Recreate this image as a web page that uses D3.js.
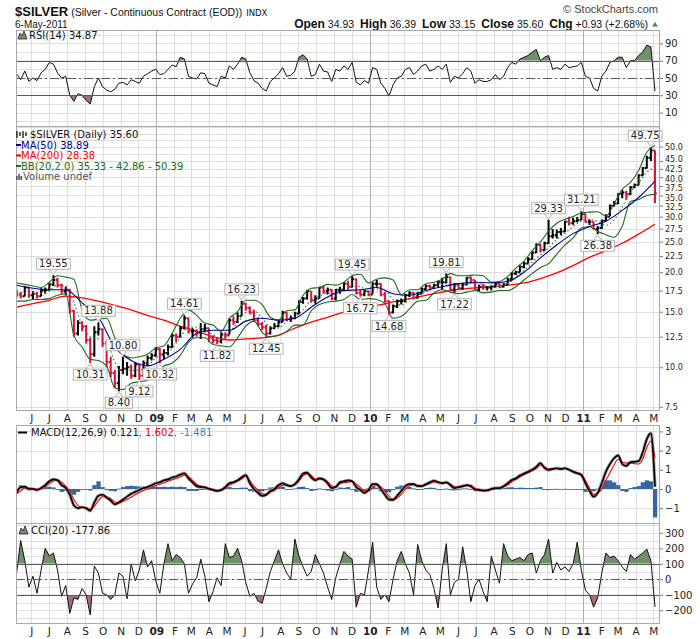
<!DOCTYPE html>
<html>
<head>
<meta charset="utf-8">
<script src="https://cdn.jsdelivr.net/npm/d3@7"></script>
<style>
  body { margin: 0; background: #fff; }
  svg { display: block; }
</style>
</head>
<body>
<script>
// one bar per week, first week is the one of 7 May 2008, last is 6 May 2011
const closes = [17.0,16.8,17.9,16.9,17.1,16.8,17.5,17.6,18.3,18.9,
  18.2,17.4,17.6,15.1,12.8,13.8,13.5,12.2,11.0,12.9,
  13.2,11.9,10.4,9.6,8.9,9.8,9.9,10.0,9.4,10.2,
  9.4,10.3,10.7,10.9,11.4,11.0,11.1,11.6,12.6,12.5,
  13.3,14.3,13.0,13.0,12.9,13.2,13.3,12.4,12.2,12.1,
  12.7,12.6,14.1,13.9,14.5,15.9,15.4,14.9,14.1,13.7,
  13.4,12.8,13.3,13.5,13.9,14.9,14.2,14.3,14.8,16.1,
  16.5,17.4,16.3,16.5,17.9,17.4,17.6,16.5,17.6,17.6,
  18.4,18.0,19.0,17.2,17.0,17.4,17.0,18.4,18.4,17.0,
  16.2,14.9,15.6,16.2,16.2,16.9,17.2,16.6,17.1,17.7,
  18.1,17.9,18.2,18.6,18.6,19.3,17.6,18.3,17.8,18.3,
  19.2,18.9,17.6,18.0,17.9,17.9,18.0,18.4,18.0,18.3,
  19.0,19.8,20.0,20.8,21.3,22.0,23.1,24.4,23.5,24.7,
  26.0,26.2,26.8,26.9,28.9,28.6,29.0,29.2,30.6,28.9,
  28.9,27.4,27.6,29.1,30.0,32.5,33.0,35.4,35.8,35.4,
  37.2,37.8,40.6,42.8,46.1,48.6,35.6];
const highs = [17.6,17.3,18.1,18.0,17.4,17.3,17.8,17.9,18.5,19.55,
  19.2,18.4,18.0,17.7,15.2,14.1,14.0,13.6,12.4,13.5,
  13.88,13.3,12.0,10.8,9.8,10.1,10.8,10.4,10.2,10.4,
  10.3,10.5,10.9,11.1,11.6,11.5,11.4,11.8,12.8,12.8,
  13.5,14.61,14.4,13.3,13.2,13.8,13.7,13.3,12.6,12.4,
  12.9,12.9,14.3,14.5,14.9,16.23,16.0,15.6,15.2,14.4,
  13.9,13.6,13.5,13.8,14.1,15.1,15.0,14.6,15.0,16.3,
  16.7,17.6,17.4,16.9,18.0,18.1,17.9,17.7,17.7,18.0,
  18.6,18.8,19.45,19.1,17.6,17.6,17.5,18.6,18.9,18.5,
  17.3,16.3,15.8,16.4,16.5,17.1,17.4,17.3,17.3,17.9,
  18.3,18.3,18.4,18.8,19.2,19.81,19.3,18.5,18.5,18.5,
  19.3,19.4,18.9,18.3,18.4,18.1,18.2,18.6,18.5,18.5,
  19.2,20.0,20.2,21.0,21.6,22.3,23.3,24.7,24.6,25.0,
  29.33,27.4,27.3,27.6,29.1,30.0,29.7,29.9,31.21,30.7,
  29.4,28.9,28.0,29.4,30.5,32.8,33.6,35.6,36.4,36.2,
  37.5,38.2,40.9,43.1,46.8,49.75,48.6];
const lows = [16.6,16.5,16.8,16.6,16.4,16.5,16.8,17.1,17.5,18.1,
  17.9,17.1,16.9,14.8,12.5,12.6,13.0,11.9,10.31,10.8,
  12.6,11.6,10.0,9.3,8.6,8.40,9.5,9.4,9.2,9.3,
  9.12,9.4,10.1,10.5,10.8,10.32,10.6,10.9,11.5,12.0,
  12.4,13.2,12.8,12.4,12.5,12.3,12.9,12.0,11.9,11.82,
  11.9,12.2,12.7,13.6,13.8,14.6,15.1,14.7,13.9,13.5,
  13.1,12.45,12.7,13.2,13.4,13.9,14.0,13.9,14.2,14.7,
  15.9,16.4,16.0,15.9,16.5,17.1,17.0,16.3,16.3,17.1,
  17.4,17.6,17.9,17.0,16.72,16.8,16.8,17.1,18.0,16.8,
  16.0,14.68,14.8,15.4,15.8,16.1,16.7,16.4,16.5,17.1,
  17.6,17.5,17.7,17.9,17.6,18.5,17.4,17.22,17.6,17.6,
  18.2,18.4,17.5,17.4,17.6,17.5,17.5,17.9,17.8,17.9,
  18.2,19.0,19.6,20.0,20.6,21.3,21.9,23.0,23.1,23.4,
  24.6,25.6,25.6,26.2,26.8,28.1,28.3,28.8,29.2,28.7,
  28.2,27.3,26.38,27.4,29.0,30.1,32.3,32.9,34.3,33.9,
  35.1,36.9,37.7,40.4,42.6,45.0,33.15];
const firstOpen = 17.3;

// moving averages, one value every 4 weeks
const ma50 = [18.2,17.8,17.6,17.6,16.0,14.4,11.6,10.5,10.1,10.6,
  11.4,12.8,13.1,13.1,14.0,14.3,14.1,14.3,15.5,16.7,
  17.5,17.6,17.9,17.1,16.9,17.5,18.0,18.4,18.6,18.5,
  18.7,20.0,22.2,24.4,26.5,27.9,29.0,31.4,34.5,38.89];
const ma200 = [15.5,15.9,16.3,16.8,16.6,16.2,15.7,15.2,14.6,14.1,
  13.5,13.0,12.5,12.2,12.3,12.4,12.65,13.3,13.9,14.4,
  14.95,15.4,15.7,16.1,16.5,16.9,17.3,17.65,17.85,18.0,
  18.2,18.5,19.1,19.9,21.0,22.3,23.4,24.7,26.4,28.38];

// Bollinger bands (20, 2.0), one value every 2 weeks
const bbUpper = [18.5,18.3,18.1,17.9,18.6,19.5,19.3,19.0,15.2,14.1,
  14.2,14.3,12.4,11.0,10.7,10.8,11.0,11.5,11.7,12.8,
  14.3,15.2,14.6,13.8,13.6,13.0,14.3,15.0,16.3,16.3,
  15.8,14.4,14.1,15.1,15.2,16.9,17.8,17.9,18.3,18.2,
  18.6,19.5,19.7,18.5,19.0,19.2,18.9,17.0,17.6,17.6,
  18.4,18.6,19.0,19.8,19.5,19.5,19.6,19.5,18.6,18.7,
  19.4,20.6,21.7,23.4,24.9,27.0,28.6,29.4,30.0,30.8,
  31.0,31.1,30.1,33.0,36.6,38.5,42.0,48.0,50.39];
const bbMiddle = [17.3,17.2,17.2,17.1,17.5,18.2,18.1,16.0,13.6,12.5,
  12.3,12.0,10.4,9.6,9.8,9.8,10.1,10.7,11.0,11.5,
  12.4,13.4,13.4,13.1,12.7,12.3,12.9,13.8,14.9,15.1,
  14.3,13.4,13.3,14.0,14.4,15.2,16.4,16.8,17.2,17.1,
  17.5,18.1,18.0,17.4,17.7,17.5,16.4,15.7,16.4,16.9,
  17.3,17.9,18.3,18.5,18.2,18.3,18.5,18.3,17.9,18.1,
  18.4,19.3,20.3,21.5,22.7,23.9,25.4,26.6,27.9,29.1,
  29.4,29.0,28.2,29.3,32.2,36.0,38.3,41.5,42.86];
const bbLower = [16.2,16.2,16.4,16.4,16.5,16.9,17.1,12.6,11.6,10.6,
  10.5,10.1,8.6,8.5,8.9,9.0,9.1,9.6,10.1,10.3,
  10.9,12.0,12.4,12.4,11.8,11.7,11.6,12.4,13.5,14.0,
  12.9,12.5,12.6,13.0,13.6,13.6,15.1,15.8,16.1,16.2,
  16.4,17.0,16.4,16.5,16.4,15.9,14.3,14.5,15.3,16.2,
  16.3,17.2,17.6,17.3,17.1,17.3,17.5,17.2,17.3,17.5,
  17.5,18.0,18.9,19.8,20.7,21.3,22.8,24.4,25.7,27.6,
  27.9,26.9,26.3,25.8,28.0,33.5,34.0,35.0,35.33];

const rsi = [55,48,58,46,50,47,56,60,68,66,
  56,50,52,30,23,32,30,24,20,40,
  50,40,36,34,37,44,45,42,48,46,
  44,52,55,58,60,54,55,60,65,63,
  74,72,52,50,49,56,55,44,42,40,
  52,50,64,60,66,74,72,56,47,44,
  38,35,46,50,55,62,52,53,58,74,
  77,72,52,54,66,58,57,46,60,58,
  64,60,68,45,42,47,44,62,60,44,
  38,29,42,50,52,60,62,54,58,64,
  66,58,60,64,60,66,45,52,50,55,
  62,58,44,48,46,46,48,54,48,52,
  62,68,66,72,74,76,80,83,70,74,
  76,60,62,60,66,62,63,64,68,52,
  50,38,35,52,58,68,70,74,74,62,
  70,70,76,80,88,86,34.87];

const macd = [-0.2,0.1,0.12,0.0,0.0,-0.05,0.05,0.2,0.4,0.5,
  0.45,0.2,0.05,-0.3,-0.85,-1.0,-0.95,-1.0,-1.13,-0.7,
  -0.35,-0.3,-0.45,-0.6,-0.8,-0.7,-0.55,-0.4,-0.25,-0.15,
  -0.05,0.05,0.1,0.2,0.3,0.35,0.45,0.5,0.6,0.65,
  0.75,0.82,0.55,0.35,0.15,0.1,0.08,0.0,-0.05,-0.1,
  -0.05,0.1,0.3,0.35,0.45,0.6,0.73,0.3,0.0,-0.2,
  -0.36,-0.3,-0.1,0.0,0.2,0.3,0.2,0.15,0.25,0.5,
  0.8,0.85,0.6,0.45,0.55,0.5,0.3,0.05,0.1,0.35,
  0.4,0.45,0.4,0.1,-0.05,-0.2,-0.05,0.25,0.25,0.0,
  -0.3,-0.55,-0.57,-0.35,-0.1,0.15,0.25,0.25,0.15,0.15,
  0.25,0.35,0.43,0.35,0.3,0.35,0.2,0.05,0.1,0.15,
  0.2,0.15,-0.03,-0.05,-0.08,-0.07,0.0,0.05,0.05,0.15,
  0.3,0.47,0.55,0.7,0.8,0.9,1.0,1.15,1.35,1.1,
  0.99,1.05,1.08,1.05,1.08,1.0,0.9,0.82,0.73,0.3,
  -0.1,-0.4,-0.2,0.3,0.9,1.3,1.6,1.75,1.3,1.2,
  1.4,1.42,1.45,1.9,2.6,2.9,0.121];
const macdSignal = [-0.25,-0.1,0.05,0.05,0.02,0.0,0.0,0.1,0.28,0.42,
  0.48,0.35,0.15,-0.1,-0.55,-0.85,-0.95,-0.97,-1.05,-0.9,
  -0.6,-0.4,-0.4,-0.5,-0.68,-0.72,-0.65,-0.55,-0.42,-0.3,
  -0.18,-0.08,0.0,0.08,0.18,0.25,0.33,0.4,0.48,0.55,
  0.63,0.72,0.65,0.45,0.25,0.15,0.1,0.04,-0.02,-0.07,
  -0.07,0.02,0.2,0.3,0.4,0.53,0.66,0.45,0.15,-0.05,
  -0.24,-0.28,-0.18,-0.08,0.08,0.2,0.22,0.17,0.22,0.4,
  0.68,0.8,0.7,0.52,0.52,0.52,0.38,0.17,0.12,0.27,
  0.34,0.35,0.4,0.25,0.08,-0.08,-0.1,0.05,0.18,0.12,
  -0.1,-0.38,-0.52,-0.47,-0.28,-0.02,0.15,0.22,0.2,0.17,
  0.2,0.28,0.37,0.37,0.33,0.33,0.26,0.13,0.1,0.12,
  0.17,0.17,0.05,-0.02,-0.06,-0.07,-0.03,0.02,0.04,0.1,
  0.22,0.38,0.5,0.63,0.74,0.85,0.95,1.08,1.25,1.15,
  1.05,1.05,1.07,1.05,1.07,1.02,0.93,0.85,0.77,0.45,
  0.05,-0.28,-0.22,0.0,0.45,0.85,1.25,1.55,1.4,1.35,
  1.35,1.32,1.3,1.55,2.15,2.5,1.602];
const macdHist = [0.05,0.2,0.07,-0.05,-0.02,-0.05,0.05,0.1,0.12,0.08,
  -0.03,-0.15,-0.1,-0.2,-0.3,-0.15,0.0,-0.03,-0.08,0.2,
  0.4,0.1,-0.05,-0.1,-0.12,0.02,0.1,0.15,0.17,0.15,
  0.13,0.13,0.1,0.12,0.12,0.1,0.12,0.1,0.12,0.1,
  0.12,0.1,-0.1,-0.1,-0.1,-0.05,-0.02,-0.04,-0.03,-0.03,
  0.02,0.08,0.1,0.05,0.05,0.07,0.07,-0.1,-0.15,-0.15,
  -0.12,-0.05,0.08,0.1,0.1,0.12,-0.02,-0.02,0.03,0.1,
  0.12,0.05,-0.1,-0.07,0.03,-0.02,-0.08,-0.12,-0.02,0.08,
  0.06,0.1,0.0,-0.15,-0.13,-0.12,0.05,0.2,0.07,-0.12,
  -0.2,-0.17,-0.05,0.12,0.18,0.17,0.1,0.03,-0.05,-0.02,
  0.05,0.07,0.06,-0.02,-0.03,0.02,-0.06,-0.08,0.0,0.03,
  0.03,-0.02,-0.08,-0.03,-0.02,0.0,0.03,0.03,0.01,0.05,
  0.08,0.09,0.05,0.07,0.06,0.05,0.05,0.07,0.1,-0.05,
  -0.06,0.0,0.01,0.0,0.01,-0.02,-0.03,-0.03,-0.04,-0.15,
  -0.15,-0.12,0.02,0.3,0.45,0.45,0.35,0.2,-0.1,-0.15,
  0.05,0.1,0.15,0.35,0.45,0.4,-1.481];

const cci = [40,250,120,-50,20,-90,60,200,150,170,
  60,-110,-40,-220,-120,-130,-60,-100,-230,85,
  40,-90,-100,-130,-100,40,20,-125,100,-10,
  60,190,80,120,-10,-90,100,230,120,160,
  140,100,-90,-30,10,130,20,-145,-80,10,
  -40,230,140,150,200,120,-20,-110,-90,-140,
  -155,-60,50,120,190,100,40,0,260,150,
  80,20,50,160,100,40,-50,-130,10,100,
  180,150,130,-180,-90,-100,60,240,-50,-130,
  -100,-145,0,120,180,100,40,-100,225,120,
  60,30,-60,-185,60,230,-100,-20,0,210,
  60,-145,-40,0,-80,-145,150,60,-25,230,
  150,120,130,140,120,160,170,40,120,160,
  260,40,110,60,80,50,100,240,60,-70,
  -100,-180,-120,40,170,140,150,120,80,50,
  160,130,150,170,195,120,-177.86];

// labelled turning points: week index and whether it marks a high or a low
const annoWeeks = [9,18,20,25,26,30,35,41,49,55,61,82,84,91,105,107,130,138,142,155];
const annoSides = ["H","L","H","L","H","L","L","H","L","H","L","H","L","L","H","L","H","H","L","H"];

const priceTicks = [7.5,10,12.5,15,17.5,20,22.5,25,27.5,30,32.5,35,37.5,40,42.5,45,50];
const priceGrid = [7.5,10,12.5,15,17.5,20,22.5,25,27.5,30,32.5,35,37.5,40,42.5,45,47.5,50,52.5,55,57.5];
const rsiTicks = [10,30,50,70,90];
const rsiGrid = [0,10,20,30,40,50,60,70,80,90,100];
const macdTicks = [-1,0,1,2,3];
const cciTicks = [-200,-100,0,100,200,300];
const cciGrid = [-250,-200,-150,-100,-50,0,50,100,150,200,250,300,350];

const quote = {open: "34.93", high: "36.39", low: "33.15", close: "35.60", chg: "+0.93 (+2.68%)"};

const W = 700, H = 639, L = 16, R = 660;
const pRsi = {top: 30, bottom: 126};
const pPrice = {top: 126, bottom: 410};
const pMacd = {top: 425, bottom: 523};
const pCci = {top: 523, bottom: 623};

const firstWeek = new Date(2008, 4, 7);
const weekDate = i => d3.timeDay.offset(firstWeek, 7 * i);

const x = d3.scaleTime()
    .domain([new Date(2008, 4, 6), new Date(2011, 4, 12, 14)])
    .range([L, R]);
const yRsi = d3.scaleLinear().domain([-5.5, 105.5]).range([pRsi.bottom, pRsi.top]);
const yPrice = d3.scaleLog().domain([7.323, 58.1]).range([pPrice.bottom, pPrice.top]);
const yMacd = d3.scaleLinear().domain([-1.771, 3.333]).range([pMacd.bottom, pMacd.top]);
const yCci = d3.scaleLinear().domain([-281.9, 363.2]).range([pCci.bottom, pCci.top]);

const GREEN_FILL = "#6f9068", RED_FILL = "#a46f6f";
const SANS = "'DejaVu Sans', Verdana, sans-serif";
const ARIAL = "'Liberation Sans', Arial, sans-serif";

const svg = d3.select("body").append("svg")
    .attr("width", W).attr("height", H)
    .style("font-family", SANS);
svg.append("rect").attr("width", W).attr("height", H).attr("fill", "#fff");
const defs = svg.append("defs");

function clip(id, y0, y1) {
  defs.append("clipPath").attr("id", id).append("rect")
      .attr("x", L).attr("y", y0).attr("width", R - L).attr("height", y1 - y0);
  return "url(#" + id + ")";
}

const months = d3.timeMonth.range(new Date(2008, 5, 1), new Date(2011, 5, 1));
const px = v => Math.round(v) + 0.5;

function grid(p, yScale, levels) {
  const g = svg.append("g");
  g.selectAll("line.h").data(levels).join("line").attr("class", "h")
      .attr("x1", L).attr("x2", R)
      .attr("y1", d => px(yScale(d))).attr("y2", d => px(yScale(d)))
      .attr("stroke", "#dedede");
  g.selectAll("line.v").data(months).join("line").attr("class", "v")
      .attr("x1", d => px(x(d))).attr("x2", d => px(x(d)))
      .attr("y1", p.top).attr("y2", p.bottom)
      .attr("stroke", d => d.getMonth() === 0 ? "#b0b0b0" : "#dedede");
}

function refLine(yScale, v, dashed) {
  svg.append("line")
      .attr("x1", L).attr("x2", R)
      .attr("y1", px(yScale(v))).attr("y2", px(yScale(v)))
      .attr("stroke", "#5a5a5a").attr("stroke-width", 1)
      .attr("stroke-dasharray", dashed ? "9,3,2,3" : null);
}

// nudge keeps the crowded top price labels from touching
function rightAxis(yScale, ticks, fmt, size, nudge) {
  const g = svg.append("g").attr("transform", `translate(${R},0)`)
      .call(d3.axisRight(yScale).tickValues(ticks).tickFormat(fmt).tickSize(3).tickPadding(2));
  g.select(".domain").remove();
  g.selectAll(".tick line").attr("stroke", "#777");
  g.selectAll(".tick text").attr("fill", "#222").style("font-size", size + "px").style("font-family", SANS)
      .attr("y", d => (nudge && nudge[d]) || 0);
}

function border(p) {
  svg.append("rect").attr("x", L + 0.5).attr("y", p.top + 0.5)
      .attr("width", R - L - 1).attr("height", p.bottom - p.top)
      .attr("fill", "none").attr("stroke", "#a8a8a8");
}

function monthAxis(yPos) {
  const g = svg.append("g").attr("transform", `translate(0,${yPos})`)
      .call(d3.axisBottom(x).tickValues(months).tickSize(0).tickPadding(4)
        .tickFormat(d => d.getMonth() === 0 ? d3.timeFormat("%y")(d) : "JFMAMJJASOND"[d.getMonth()]));
  g.select(".domain").remove();
  g.selectAll(".tick text").attr("fill", "#222").style("font-size", "10.5px").style("font-family", SANS)
      .style("font-weight", d => d.getMonth() === 0 ? "bold" : "normal");
}

// shaded indicator panel (RSI / CCI style)
function oscillator(p, yScale, values, hi, lo, id) {
  const g = svg.append("g").attr("clip-path", clip(id, p.top, p.bottom));
  const area = d3.area().x((d, i) => x(weekDate(i))).y1(d => yScale(d));
  g.append("path").datum(values).attr("clip-path", clip(id + "hi", p.top, yScale(hi)))
      .attr("d", area.y0(yScale(hi))).attr("fill", GREEN_FILL);
  g.append("path").datum(values).attr("clip-path", clip(id + "lo", yScale(lo), p.bottom))
      .attr("d", area.y0(yScale(lo))).attr("fill", RED_FILL);
  refLine(yScale, hi, false);
  refLine(yScale, lo, false);
  refLine(yScale, (hi + lo) / 2, true);
  g.append("path").datum(values)
      .attr("d", d3.line().x((d, i) => x(weekDate(i))).y(d => yScale(d)))
      .attr("fill", "none").attr("stroke", "#111").attr("stroke-width", 1);
}

function mountainIcon(x0, yb) {
  svg.append("path")
      .attr("d", `M${x0},${yb} L${x0 + 2},${yb - 6} L${x0 + 4},${yb - 3} L${x0 + 6},${yb - 8} L${x0 + 9},${yb} Z`)
      .attr("fill", GREEN_FILL).attr("stroke", "#222").attr("stroke-width", 0.8);
}

// ---------- header ----------
const title = svg.append("text").attr("x", 15).attr("y", 16).style("font-family", ARIAL).attr("fill", "#111");
title.append("tspan").attr("font-weight", "bold").attr("font-size", 13).text("$SILVER");
title.append("tspan").attr("font-size", 10.5).attr("dx", 3).text("(Silver - Continuous Contract (EOD))");
title.append("tspan").attr("font-size", 8.5).attr("dx", 4).style("font-family", SANS).text("INDX");

svg.append("text").attr("x", 15).attr("y", 28).style("font-family", ARIAL).attr("font-size", 10)
    .attr("fill", "#111").text("6-May-2011");

svg.append("text").attr("x", 658).attr("y", 13).attr("text-anchor", "end")
    .style("font-family", ARIAL).attr("font-size", 11).attr("fill", "#444").text("\u00A9 StockCharts.com");

const qt = svg.append("text").attr("x", 648).attr("y", 28).attr("text-anchor", "end")
    .style("font-family", ARIAL).attr("fill", "#111");
[["Open", quote.open], ["High", quote.high], ["Low", quote.low], ["Close", quote.close], ["Chg", quote.chg]]
  .forEach(([k, v], j) => {
    qt.append("tspan").attr("font-weight", "bold").attr("font-size", 12).attr("dx", j ? 6 : 0).text(k);
    qt.append("tspan").attr("font-size", 10.5).attr("dx", 3).text(v);
  });
svg.append("path").attr("d", "M652,26.5 L655,22 L658,26.5 Z").attr("fill", "#2f9a2f");

// ---------- RSI panel ----------
grid(pRsi, yRsi, rsiGrid);
oscillator(pRsi, yRsi, rsi, 70, 30, "cRsi");
border(pRsi);
rightAxis(yRsi, rsiTicks, d3.format("d"), 10);
mountainIcon(18, 39);
svg.append("text").attr("x", 29).attr("y", 39).attr("font-size", 10).attr("fill", "#111")
    .text("RSI(14) " + rsi[rsi.length - 1].toFixed(2));

// ---------- price panel ----------
grid(pPrice, yPrice, priceGrid);
const gp = svg.append("g").attr("clip-path", clip("cPrice", pPrice.top, pPrice.bottom));

const wk = i => x(weekDate(i));
const line4 = d3.line().x((d, i) => wk(i * 4)).y(d => yPrice(d)).curve(d3.curveMonotoneX);
const line2 = d3.line().x((d, i) => wk(i * 2)).y(d => yPrice(d)).curve(d3.curveMonotoneX);

gp.append("path").datum(ma200).attr("d", line4).attr("fill", "none").attr("stroke", "#ff0000").attr("stroke-width", 1.3);

const t = 1.8;
gp.selectAll("path.bar").data(d3.range(closes.length)).join("path").attr("class", "bar")
    .attr("d", i => {
      const xc = wk(i), o = i ? closes[i - 1] : firstOpen;
      return `M${xc},${yPrice(highs[i])}V${yPrice(lows[i])}` +
             `M${xc - t},${yPrice(o)}H${xc}M${xc},${yPrice(closes[i])}H${xc + t}`;
    })
    .attr("fill", "none").attr("stroke-width", 2)
    .attr("stroke", i => closes[i] < (i ? closes[i - 1] : firstOpen) ? "#dd1040" : "#000");

gp.append("path").datum(bbUpper).attr("d", line2).attr("fill", "none").attr("stroke", "#1a6b1a").attr("stroke-width", 1.1);
gp.append("path").datum(bbLower).attr("d", line2).attr("fill", "none").attr("stroke", "#1a6b1a").attr("stroke-width", 1.1);
gp.append("path").datum(bbMiddle).attr("d", line2).attr("fill", "none").attr("stroke", "#2d8a2d")
    .attr("stroke-width", 1.2).attr("stroke-dasharray", "1.5,2.5");
gp.append("path").datum(ma50).attr("d", line4).attr("fill", "none").attr("stroke", "#00008b").attr("stroke-width", 1.1);

// labelled highs and lows
const ag = svg.append("g");
annoWeeks.forEach((w, k) => {
  const hi = annoSides[k] === "H";
  const v = hi ? highs[w] : lows[w];
  const ax = wk(w), ay = yPrice(v);
  const txt = ag.append("text").attr("font-size", 10).attr("fill", "#222").attr("text-anchor", "middle").text(v.toFixed(2));
  const tw = txt.node().getComputedTextLength();
  const bw = tw + 5, bh = 11;
  let bx = ax - bw / 2;
  if (bx + bw > R + 2) bx = R + 2 - bw;
  const by = hi ? ay - 6 - bh : ay + 6;
  const tip = hi ? by + bh : by;
  ag.insert("path", "text")
      .attr("d", `M${ax - 4},${tip} L${ax},${hi ? ay - 1 : ay + 1} L${ax + 4},${tip}`)
      .attr("fill", "#fff").attr("stroke", "#b4b4b4");
  ag.insert("rect", "text").attr("x", bx).attr("y", by).attr("width", bw).attr("height", bh)
      .attr("fill", "#fff").attr("stroke", "#b4b4b4");
  txt.attr("x", bx + bw / 2).attr("y", by + bh - 2);
});

border(pPrice);
rightAxis(yPrice, priceTicks, d3.format(".1f"), 8, {45: -2, 40: 1.5, 37.5: 2, 35: 2, 32.5: 1});
monthAxis(pPrice.bottom + 1);

// price legend
const lg = svg.append("g").attr("font-size", 10);
[0, 1, 2, 3].forEach(j => {
  lg.append("line").attr("x1", 17 + j * 3).attr("x2", 17 + j * 3)
      .attr("y1", 131 + (j % 2)).attr("y2", 138 - (j % 2) * 2).attr("stroke", "#111").attr("stroke-width", 1.3);
});
lg.append("text").attr("x", 30).attr("y", 138).attr("fill", "#111").text("$SILVER (Daily) " + closes[closes.length - 1].toFixed(2));
const legendRows = [
  {color: "#00008b", label: "MA(50) " + ma50[ma50.length - 1].toFixed(2)},
  {color: "#ff0000", label: "MA(200) " + ma200[ma200.length - 1].toFixed(2)},
  {color: "#1a6b1a", label: "BB(20,2.0) " + bbLower[bbLower.length - 1].toFixed(2) + " - " +
      bbMiddle[bbMiddle.length - 1].toFixed(2) + " - " + bbUpper[bbUpper.length - 1].toFixed(2)}
];
legendRows.forEach((r, j) => {
  const yb = 148.5 + j * 10.5;
  lg.append("line").attr("x1", 16).attr("x2", 21).attr("y1", yb - 3.5).attr("y2", yb - 3.5)
      .attr("stroke", r.color).attr("stroke-width", 2);
  lg.append("text").attr("x", 21).attr("y", yb).attr("fill", r.color).text(r.label);
});
[0, 1, 2].forEach(j => {
  lg.append("rect").attr("x", 16 + j * 2.2).attr("y", 174 + (j === 1 ? 0 : 2)).attr("width", 1.6)
      .attr("height", 6 - (j === 1 ? 0 : 2)).attr("fill", "#555");
});
lg.append("text").attr("x", 23).attr("y", 180).attr("fill", "#555").text("Volume undef");

// ---------- MACD panel ----------
grid(pMacd, yMacd, macdTicks);
const gm = svg.append("g").attr("clip-path", clip("cMacd", pMacd.top, pMacd.bottom));
const step = wk(1) - wk(0);
gm.selectAll("rect").data(macdHist).join("rect")
    .attr("x", (d, i) => wk(i) - step / 2)
    .attr("width", step + 0.2)
    .attr("y", d => Math.min(yMacd(d), yMacd(0)))
    .attr("height", d => Math.max(0.8, Math.abs(yMacd(d) - yMacd(0))))
    .attr("fill", "#36679d");
const macdLine = d3.line().x((d, i) => wk(i)).y(d => yMacd(d)).curve(d3.curveMonotoneX);
gm.append("path").datum(macd).attr("d", macdLine).attr("fill", "none").attr("stroke", "#aaa").attr("stroke-width", 3.4);
gm.append("path").datum(macdSignal).attr("d", macdLine).attr("fill", "none").attr("stroke", "#ff0000").attr("stroke-width", 1.1);
gm.append("path").datum(macd).attr("d", macdLine).attr("fill", "none").attr("stroke", "#000").attr("stroke-width", 1.7);
border(pMacd);
rightAxis(yMacd, macdTicks, d3.format("d"), 10);

svg.append("line").attr("x1", 18).attr("x2", 27).attr("y1", 432.5).attr("y2", 432.5).attr("stroke", "#000").attr("stroke-width", 2);
const ml = svg.append("text").attr("x", 31).attr("y", 436).attr("font-size", 10);
ml.append("tspan").attr("fill", "#111").text("MACD(12,26,9) " + macd[macd.length - 1].toFixed(3));
ml.append("tspan").attr("fill", "#ee0000").text(", " + macdSignal[macdSignal.length - 1].toFixed(3));
ml.append("tspan").attr("fill", "#2a8cc4").text(", " + macdHist[macdHist.length - 1].toFixed(3));

// ---------- CCI panel ----------
grid(pCci, yCci, cciGrid);
oscillator(pCci, yCci, cci, 100, -100, "cCci");
border(pCci);
rightAxis(yCci, cciTicks, d3.format("d"), 10);
mountainIcon(19, 534);
svg.append("text").attr("x", 31).attr("y", 534).attr("font-size", 10).attr("fill", "#111")
    .text("CCI(20) " + cci[cci.length - 1].toFixed(2));
monthAxis(pCci.bottom + 1);
</script>
</body>
</html>
